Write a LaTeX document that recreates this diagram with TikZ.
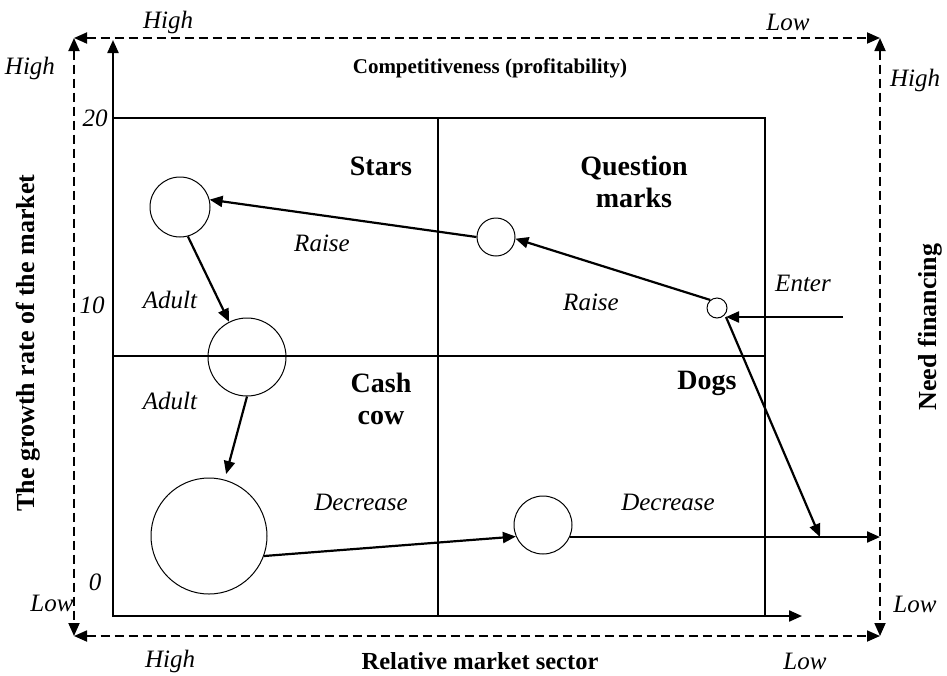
\documentclass[tikz,border=0pt]{standalone}
\usepackage{fontspec}
\setmainfont{Liberation Serif}
\usetikzlibrary{arrows.meta,positioning,calc}

\tikzset{
  lbl/.style={font=\fontsize{25}{28}\selectfont\itshape, inner sep=0pt},
  quad/.style={font=\fontsize{28}{32}\selectfont\bfseries, align=center, inner sep=0pt},
  ttl/.style={font=\fontsize{26}{30}\selectfont\bfseries, inner sep=0pt},
  ball/.style={draw, circle, inner sep=0pt, line width=1pt},
  flow/.style={-{Triangle[length=13pt,width=11pt]}, line width=2.2pt},
  frame/.style={{Triangle[length=13pt,width=11pt]}-{Triangle[length=13pt,width=11pt]}, dash pattern=on 9pt off 5pt, line width=1.8pt},
  grid/.style={line width=1.1pt}
}

\begin{document}
\begin{tikzpicture}[x=1pt,y=-1pt]
\useasboundingbox (0,0) rectangle (947,675);
% corners
\coordinate (fNW) at (74,38);
\coordinate (fNE) at (880,38);
\coordinate (fSW) at (74,636);
\coordinate (fSE) at (880,636);
\coordinate (o) at (113,616);
\coordinate (yTop) at (113,40);
\coordinate (xEnd) at (802,616);
% dashed frame
\draw[frame] (fNW) -- (fNE);
\draw[frame] (fSW) -- (fSE);
\draw[frame] (fNW) -- (fSW);
\draw[frame] (fNE) -- (fSE);
% grid
\draw[grid] (113,118) rectangle (765,616);
\draw[grid] (438,118) -- (438,616);
\draw[grid] (113,356) -- (765,356);
% axes
\draw[flow] (o) -- (yTop);
\draw[flow] (o) -- (xEnd);
% axis texts
\node[ttl, font=\fontsize{21}{24}\selectfont\bfseries] (comp) at (490,68) {Competitiveness (profitability)};
\node[ttl, font=\fontsize{24.5}{28}\selectfont\bfseries] (rel) at (480,661) {Relative market sector};
\node[ttl, rotate=90] (grow) at (28,343) {The growth rate of the market};
\node[ttl, rotate=90] (need) at (930,327) {Need financing};
\node[lbl] (n20) at (95,118) {20};
\node[lbl] (n10) at (92,305) {10};
\node[lbl] (n0) at (95,582) {0};
\node[lbl] (hTL) at (168,22) {High};
\node[lbl] (hL) at (30,68) {High};
\node[lbl] (lTR) at (788,22) {Low};
\node[lbl] (hR) at (915,80) {High};
\node[lbl] (lBL) at (52,603) {Low};
\node[lbl] (hB) at (170,661) {High};
\node[lbl] (lB) at (805,661) {Low};
\node[lbl] (lR) at (915,604) {Low};
% quadrants
\node[quad] (stars) at (381,166) {Stars};
\node[quad] (qmark) at (634,182) {Question\\marks};
\node[quad] (cash) at (381,399) {Cash\\cow};
\node[quad] (dogs) at (707,383) {Dogs};
% balls
\node[ball, minimum size=60pt] (star) at (180,207) {};
\node[ball, minimum size=78pt] (adult) at (247,357) {};
\node[ball, minimum size=116pt] (cow) at (209,536) {};
\node[ball, minimum size=38pt] (qm) at (496,237) {};
\node[ball, minimum size=20pt] (new) at (717,308) {};
\node[ball, minimum size=58pt] (dog) at (543,525) {};
\coordinate (tip) at (726,317);
\coordinate (enter) at (843,317);
\coordinate (exitA) at (820,537);
\coordinate (exitB) at (880,537);
% moves
\draw[flow] (qm.west) -- (star.14);
\draw[flow] (new.130) -- (qm.-5);
\draw[flow] (enter) -- (tip);
\draw[flow] (tip) -- (exitA);
\draw[flow] (dog.-24) -- (dog.-24 -| exitB);
\draw[flow] (star.-75) -- (adult.117);
\draw[flow] (adult.south) -- ($(cow.73)+(0,-6)$);
\draw[flow] (cow.-20) -- (dog.203);
% move labels
\node[lbl] (r1) at (322,243) {Raise};
\node[lbl] (r2) at (591,302) {Raise};
\node[lbl] (ent) at (803,283) {Enter};
\node[lbl] (a1) at (170,300) {Adult};
\node[lbl] (a2) at (170,401) {Adult};
\node[lbl] (d1) at (361,502) {Decrease};
\node[lbl] (d2) at (668,502) {Decrease};
\end{tikzpicture}
\end{document}
